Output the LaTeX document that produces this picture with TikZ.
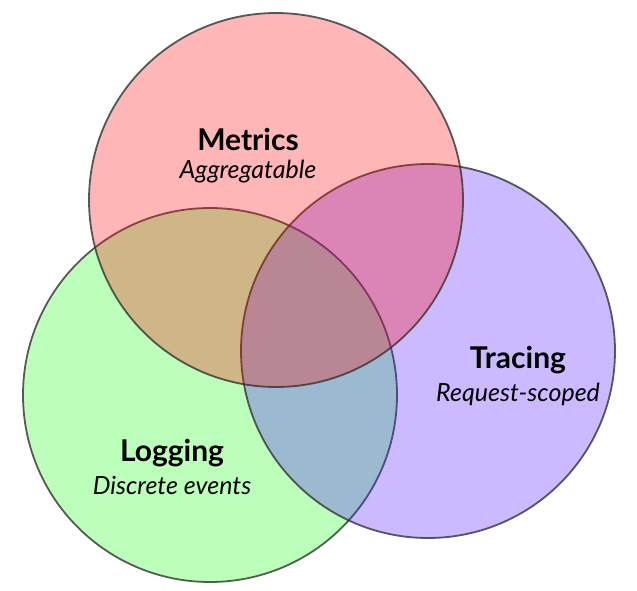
\documentclass[tikz,border=0pt]{standalone}
\usepackage{fontspec}
\setmainfont{Lato}
\usetikzlibrary{positioning}
\definecolor{metricsred}{RGB}{255,12,12}
\definecolor{loggingreen}{RGB}{30,255,30}
\definecolor{tracingblue}{RGB}{82,28,255}
\tikzset{
    setnode/.style = {circle, inner sep=0pt, outer sep=0pt, minimum size=374pt, draw=black!80, line width=1.8pt, draw opacity=0.8, fill opacity=0.3},
    titlenode/.style = {align=center, inner sep=0pt, font=\fontsize{30}{34}\selectfont\bfseries, text=black},
    subnode/.style = {align=center, inner sep=0pt, font=\fontsize{25}{28}\selectfont\itshape, text=black}
}
\begin{document}
\begin{tikzpicture}[x=1pt, y=-1pt]
  \useasboundingbox (0,0) rectangle (637,590);
  % the three sets
  \node[setnode, fill=loggingreen] (logging) at (210,395) {};
  \node[setnode, fill=tracingblue] (tracing) at (428,351) {};
  \node[setnode, fill=metricsred] (metrics) at (276,200) {};
  % labels
  \node[titlenode] (metricsname) at (248,139) {Metrics};
  \node[subnode, below=9pt of metricsname] (metricssub) {Aggregatable};
  \node[titlenode] (tracingname) at (518,360) {Tracing};
  \node[subnode, below=9pt of tracingname] (tracingsub) {Request-scoped};
  \node[titlenode] (loggingname) at (172,453) {Logging};
  \node[subnode, below=9pt of loggingname] (loggingsub) {Discrete events};
\end{tikzpicture}
\end{document}
